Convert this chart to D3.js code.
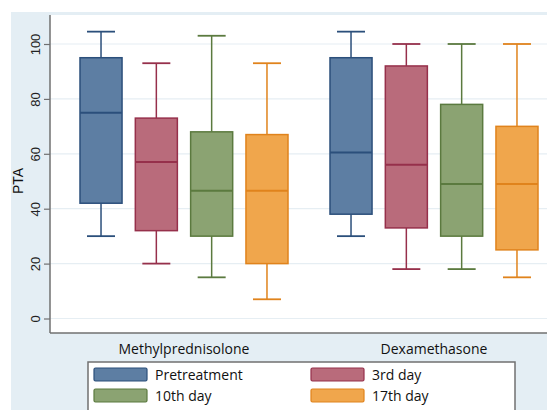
<!DOCTYPE html>
<html><head><meta charset="utf-8">
<script src="https://cdn.jsdelivr.net/npm/d3@7"></script>
<style>body{margin:0;background:#fff}svg{display:block}</style>
</head><body>
<svg id="c" width="547" height="410"></svg>
<script>
const groups = ["Methylprednisolone", "Dexamethasone"];
const series = ["Pretreatment", "3rd day", "10th day", "17th day"];
const fills = ["#5d7ea3", "#b96b7b", "#8ba372", "#f0a64c"];
const strokes = ["#2b4f7b", "#96304b", "#5b7a3f", "#e0831c"];
// [lowerWhisker, q1, median, q3, upperWhisker] per group, per series
const methylStats = [
  [30, 42, 75, 95, 104.5],
  [20, 32, 57, 73, 93],
  [15, 30, 46.5, 68, 103],
  [7, 20, 46.5, 67, 93]
];
const dexaStats = [
  [30, 38, 60.5, 95, 104.5],
  [18, 33, 56, 92, 100],
  [18, 30, 49, 78, 100],
  [15, 25, 49, 70, 100]
];
const yTicks = [0, 20, 40, 60, 80, 100];
const allStats = [methylStats, dexaStats];

const svg = d3.select("#c");
svg.append("rect").attr("x", 11).attr("y", 12).attr("width", 536).attr("height", 398).attr("fill", "#e4eef4");
const plotL = 50, plotT = 15, plotB = 333, plotR = 547;
svg.append("rect").attr("x", plotL).attr("y", plotT).attr("width", plotR - plotL).attr("height", plotB - plotT).attr("fill", "#fff");

const y = d3.scaleLinear().domain([0, 100]).range([318.5, 44]);
const x0 = d3.scaleBand().domain(groups).range([59, 559]).padding(0);
const x1 = d3.scaleBand().domain(series).range([-104, 104]).paddingInner(0.24).paddingOuter(0);

svg.append("g").selectAll("line").data(yTicks).join("line")
  .attr("x1", plotL).attr("x2", plotR).attr("y1", d => y(d)).attr("y2", d => y(d))
  .attr("stroke", "#e6eef3").attr("stroke-width", 1.2);

groups.forEach((g, gi) => {
  const cx = x0(g) + x0.bandwidth() / 2;
  series.forEach((s, si) => {
    const st = allStats[gi][si];
    const bx = cx + x1(s), bw = x1.bandwidth(), mid = bx + bw / 2;
    const gg = svg.append("g");
    gg.append("line").attr("x1", mid).attr("x2", mid).attr("y1", y(st[3])).attr("y2", y(st[4])).attr("stroke", strokes[si]).attr("stroke-width", 1.5);
    gg.append("line").attr("x1", mid).attr("x2", mid).attr("y1", y(st[1])).attr("y2", y(st[0])).attr("stroke", strokes[si]).attr("stroke-width", 1.5);
    gg.append("line").attr("x1", mid - 14).attr("x2", mid + 14).attr("y1", y(st[4])).attr("y2", y(st[4])).attr("stroke", strokes[si]).attr("stroke-width", 1.8);
    gg.append("line").attr("x1", mid - 14).attr("x2", mid + 14).attr("y1", y(st[0])).attr("y2", y(st[0])).attr("stroke", strokes[si]).attr("stroke-width", 1.8);
    gg.append("rect").attr("x", bx).attr("y", y(st[3])).attr("width", bw).attr("height", y(st[1]) - y(st[3]))
      .attr("fill", fills[si]).attr("stroke", strokes[si]).attr("stroke-width", 1.5);
    gg.append("line").attr("x1", bx).attr("x2", bx + bw).attr("y1", y(st[2])).attr("y2", y(st[2])).attr("stroke", strokes[si]).attr("stroke-width", 2);
  });
});

svg.append("line").attr("x1", plotL).attr("x2", plotL).attr("y1", plotT).attr("y2", plotB).attr("stroke", "#707070").attr("stroke-width", 1.5);
svg.append("line").attr("x1", plotL).attr("x2", plotR).attr("y1", plotB).attr("y2", plotB).attr("stroke", "#707070").attr("stroke-width", 1.5);

const yAxis = d3.axisLeft(y).tickValues(yTicks).tickSize(6).tickPadding(4);
const ya = svg.append("g").attr("transform", `translate(${plotL},0)`).call(yAxis);
ya.select(".domain").remove();
ya.selectAll(".tick line").attr("stroke", "#707070").attr("stroke-width", 1.2);
ya.selectAll(".tick text").attr("transform", "rotate(-90)")
  .attr("x", 0).attr("y", -10).attr("dy", 0).attr("text-anchor", "middle")
  .style("font-family", "'Liberation Sans', Arial, sans-serif").style("font-size", "13px").attr("fill", "#222");

svg.append("text").attr("transform", "translate(23,181) rotate(-90)").attr("text-anchor", "middle")
  .style("font-family", "'Liberation Sans', Arial, sans-serif").style("font-size", "14px").attr("fill", "#111").text("PTA");

svg.append("g").selectAll("text").data(groups).join("text")
  .attr("x", d => x0(d) + x0.bandwidth() / 2).attr("y", 354).attr("text-anchor", "middle")
  .style("font-family", "'Open Sans', sans-serif").style("font-size", "14px").attr("fill", "#111").text(d => d);

svg.append("rect").attr("x", 88).attr("y", 362).attr("width", 427).attr("height", 60).attr("fill", "#fff").attr("stroke", "#707070").attr("stroke-width", 1.5);
const legPos = [[94, 368], [311, 368], [94, 389], [311, 389]];
series.forEach((s, i) => {
  const [lx, ly] = legPos[i];
  svg.append("rect").attr("x", lx).attr("y", ly).attr("width", 53).attr("height", 13).attr("rx", 1.5)
    .attr("fill", fills[i]).attr("stroke", strokes[i]).attr("stroke-width", 1.2);
  svg.append("text").attr("x", lx + 61).attr("y", ly + 11.5)
    .style("font-family", "'Open Sans', sans-serif").style("font-size", "14px").attr("fill", "#111").text(s);
});
</script>
</body></html>
